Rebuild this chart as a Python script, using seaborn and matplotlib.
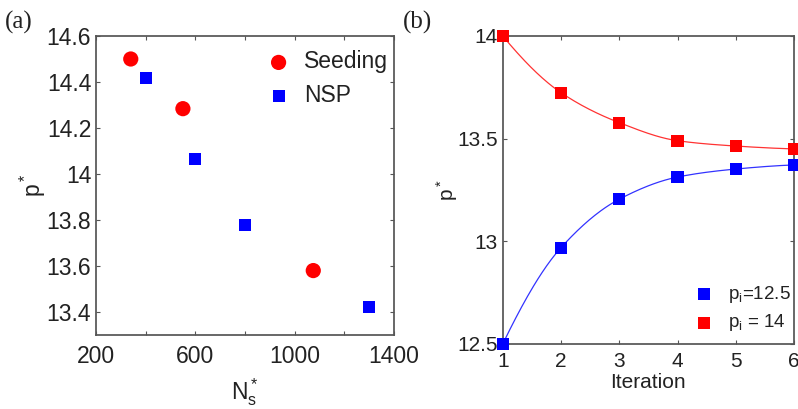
import numpy as np
import pandas as pd
import seaborn as sns
import matplotlib
matplotlib.use("Agg")
import matplotlib.pyplot as plt

# panel (a) data
seed_ns = [340, 550, 1075]
seed_p = [14.50, 14.284, 13.58]
nsp_ns = [400, 600, 800, 1300]
nsp_p = [14.418, 14.065, 13.78, 13.42]

# panel (b) data
iteration = [1, 2, 3, 4, 5, 6]
p_from_125 = [12.5, 12.969, 13.205, 13.313, 13.352, 13.372]
p_from_14 = [14.0, 13.724, 13.578, 13.49, 13.464, 13.45]


def smooth_curve(x, y, n=200):
    # monotone cubic hermite (pchip) used only to draw the connecting line
    x = np.asarray(x, float)
    y = np.asarray(y, float)
    h = np.diff(x)
    d = np.diff(y) / h
    m = np.zeros_like(y)
    for k in range(1, len(x) - 1):
        if d[k - 1] * d[k] > 0:
            w1 = 2 * h[k] + h[k - 1]
            w2 = h[k] + 2 * h[k - 1]
            m[k] = (w1 + w2) / (w1 / d[k - 1] + w2 / d[k])
    m[0] = ((2 * h[0] + h[1]) * d[0] - h[0] * d[1]) / (h[0] + h[1])
    if np.sign(m[0]) != np.sign(d[0]):
        m[0] = 0
    m[-1] = ((2 * h[-1] + h[-2]) * d[-1] - h[-1] * d[-2]) / (h[-1] + h[-2])
    if np.sign(m[-1]) != np.sign(d[-1]):
        m[-1] = 0
    xs = np.linspace(x[0], x[-1], n)
    idx = np.clip(np.searchsorted(x, xs) - 1, 0, len(x) - 2)
    t = (xs - x[idx]) / h[idx]
    h00 = 2 * t**3 - 3 * t**2 + 1
    h10 = t**3 - 2 * t**2 + t
    h01 = -2 * t**3 + 3 * t**2
    h11 = t**3 - t**2
    ys = h00 * y[idx] + h10 * h[idx] * m[idx] + h01 * y[idx + 1] + h11 * h[idx] * m[idx + 1]
    return xs, ys


sns.set_theme(style="ticks")
plt.rcParams["font.family"] = ["Liberation Sans", "DejaVu Sans"]
plt.rcParams["mathtext.fontset"] = "custom"
plt.rcParams["mathtext.rm"] = "Liberation Sans"
plt.rcParams["mathtext.it"] = "Liberation Sans"
plt.rcParams["axes.edgecolor"] = "#555555"
plt.rcParams["xtick.color"] = "#555555"
plt.rcParams["ytick.color"] = "#555555"
plt.rcParams["xtick.labelcolor"] = "#222222"
plt.rcParams["ytick.labelcolor"] = "#222222"

fig = plt.figure(figsize=(7.98, 4.09), dpi=100)
ax1 = fig.add_axes([0.1203, 0.181, 0.3734, 0.731])
ax2 = fig.add_axes([0.630, 0.159, 0.365, 0.753])

RED = "#ff0000"
BLUE = "#0000ff"

# ---- panel (a)
sns.scatterplot(x=seed_ns, y=seed_p, ax=ax1, color=RED, marker="o", s=120,
                edgecolor="none", label="Seeding", clip_on=False)
sns.scatterplot(x=nsp_ns, y=nsp_p, ax=ax1, color=BLUE, marker="s", s=75,
                edgecolor="none", label="NSP", clip_on=False)
ax1.set_xlim(200, 1400)
ax1.set_ylim(13.3, 14.6)
ax1.set_xticks([200, 400, 600, 800, 1000, 1200, 1400])
ax1.set_xticklabels(["200", "", "600", "", "1000", "", "1400"])
ax1.set_yticks([13.4, 13.6, 13.8, 14.0, 14.2, 14.4, 14.6])
ax1.set_yticklabels(["13.4", "13.6", "13.8", "14", "14.2", "14.4", "14.6"])
ax1.tick_params(direction="in", top=True, right=True, labelsize=16.5, length=3, width=0.8)
ax1.tick_params(axis="x", pad=7)
ax1.set_xlabel(r"N$_s^*$", fontsize=16.5, color="#222222", labelpad=6)
ax1.set_ylabel(r"p$^*$", fontsize=16.5, color="#222222", labelpad=-1)
leg = ax1.legend(loc="upper right", bbox_to_anchor=(1.02, 0.99), frameon=False,
                 fontsize=16.5, handletextpad=0.13, borderaxespad=0.1, labelspacing=0.45)
for t in leg.get_texts():
    t.set_color("#222222")
fig.text(0.006, 0.93, "(a)", fontsize=18, family="Liberation Serif", color="#222222")

# ---- panel (b)
for yv, col, lab in [(p_from_125, BLUE, r"p$_\mathregular{i}$=12.5"),
                     (p_from_14, RED, r"p$_\mathregular{i}$ = 14")]:
    xs, ys = smooth_curve(iteration, yv)
    sns.lineplot(x=xs, y=ys, ax=ax2, color=col, linewidth=0.9, alpha=0.8)
    sns.scatterplot(x=iteration, y=yv, ax=ax2, color=col, marker="s", s=75,
                    edgecolor="none", label=lab, clip_on=False, zorder=5)
ax2.set_xlim(1, 6)
ax2.set_ylim(12.5, 14)
ax2.set_xticks([1, 2, 3, 4, 5, 6])
ax2.set_yticks([12.5, 13, 13.5, 14])
ax2.set_yticklabels(["12.5", "13", "13.5", "14"])
ax2.tick_params(direction="in", top=True, right=True, labelsize=15, length=3, width=0.8)
ax2.tick_params(axis="x", pad=6)
ax2.set_xlabel("Iteration", fontsize=15, color="#222222", labelpad=1)
ax2.set_ylabel(r"p$^*$", fontsize=15, color="#222222", labelpad=-2)
leg2 = ax2.legend(loc="lower right", bbox_to_anchor=(0.99, 0.034), frameon=False,
                  fontsize=13.5, handletextpad=0.28, borderaxespad=0, labelspacing=0.4,
                  borderpad=0)
for t in leg2.get_texts():
    t.set_color("#222222")
fig.text(0.505, 0.93, "(b)", fontsize=18, family="Liberation Serif", color="#222222")

fig.savefig("out.png", dpi=100)
